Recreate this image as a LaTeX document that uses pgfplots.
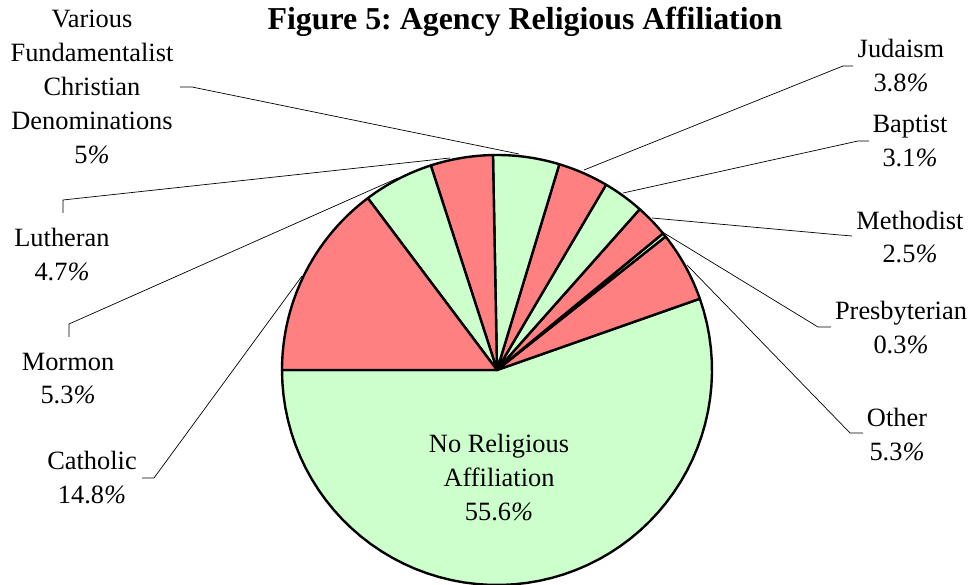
\documentclass[border=0pt]{standalone}
\usepackage{pgfplots}
\pgfplotsset{compat=1.18}
\usepackage{fontspec}
\setmainfont{Liberation Serif}
\frenchspacing
\definecolor{pred}{HTML}{FF8080}
\definecolor{pgreen}{HTML}{CCFFCC}
\newcommand{\labfont}{\fontsize{26.5}{34}\selectfont}
\newcommand{\pc}{\textit{\%}}
\begin{document}
\begin{tikzpicture}
\begin{axis}[at={(0,0)}, anchor=south west, width=971bp, height=585bp, scale only axis,
  xmin=0, xmax=971, ymin=0, ymax=585, hide axis, clip=false]
% shares (percent), counter-clockwise starting at the left (180 degrees)
\def\slices{55.6/pgreen, 5.3/pred, 0.3/pgreen, 2.5/pred, 3.1/pgreen, 3.8/pred, 5/pgreen, 4.7/pred, 5.3/pgreen, 14.8/pred}
\gdef\tot{0}
\foreach \v/\col in \slices {\pgfmathsetmacro\tmpt{\tot+\v}\xdef\tot{\tmpt}}
\gdef\cum{0}
\foreach \v/\col in \slices {
  \pgfmathsetmacro\angA{180+\cum/\tot*360}
  \pgfmathsetmacro\newcum{\cum+\v}
  \pgfmathsetmacro\angB{180+\newcum/\tot*360}
  \xdef\cum{\newcum}
  \edef\temp{\noexpand\addplot[fill=\col, draw=black, line width=2.4pt, line join=round, domain=\angA:\angB, samples=60]
    ({497+215*cos(x)}, {215+215*sin(x)}) -- (axis cs:497,215) -- cycle;}
  \temp
}
% leader lines
\draw[black, line width=0.7pt] (axis cs:853,519) -- (axis cs:843,519) -- (axis cs:584,415);
\draw[black, line width=0.7pt] (axis cs:869,444) -- (axis cs:858,444) -- (axis cs:623,392);
\draw[black, line width=0.7pt] (axis cs:852,349) -- (axis cs:840,350) -- (axis cs:652,367);
\draw[black, line width=0.7pt] (axis cs:831,258) -- (axis cs:818,258) -- (axis cs:664,352);
\draw[black, line width=0.7pt] (axis cs:863,152) -- (axis cs:850,152) -- (axis cs:687,320);
\draw[black, line width=0.7pt] (axis cs:180,498) -- (axis cs:192,498) -- (axis cs:519,431);
\draw[black, line width=0.7pt] (axis cs:63,372) -- (axis cs:63,385) -- (axis cs:450,427);
\draw[black, line width=0.7pt] (axis cs:69,248) -- (axis cs:69,261) -- (axis cs:398,407);
\draw[black, line width=0.7pt] (axis cs:142,107) -- (axis cs:154,107) -- (axis cs:302,309);
% labels
\node[font=\bfseries\fontsize{32}{36}\selectfont, inner sep=0pt] at (axis cs:525,563) {Figure 5: Agency Religious Affiliation};
\node[font=\labfont, align=center, inner sep=0pt] at (axis cs:92,498) {Various\\Fundamentalist\\Christian\\Denominations\\5\pc};
\node[font=\labfont, align=center, inner sep=0pt] at (axis cs:62,330.5) {Lutheran\\4.7\pc};
\node[font=\labfont, align=center, inner sep=0pt] at (axis cs:68,206.5) {Mormon\\5.3\pc};
\node[font=\labfont, align=center, inner sep=0pt] at (axis cs:92,107.5) {Catholic\\14.8\pc};
\node[font=\labfont, align=center, inner sep=0pt] at (axis cs:499,107.5) {No Religious\\Affiliation\\55.6\pc};
\node[font=\labfont, align=center, inner sep=0pt] at (axis cs:901,519.5) {Judaism\\3.8\pc};
\node[font=\labfont, align=center, inner sep=0pt] at (axis cs:910,444) {Baptist\\3.1\pc};
\node[font=\labfont, align=center, inner sep=0pt] at (axis cs:910,348) {Methodist\\2.5\pc};
\node[font=\labfont, align=center, inner sep=0pt] at (axis cs:901,257.5) {Presbyterian\\0.3\pc};
\node[font=\labfont, align=center, inner sep=0pt] at (axis cs:897,150.5) {Other\\5.3\pc};
\end{axis}
\pgfresetboundingbox
\path[use as bounding box] (0,0) rectangle (971bp,585bp);
\end{tikzpicture}
\end{document}
